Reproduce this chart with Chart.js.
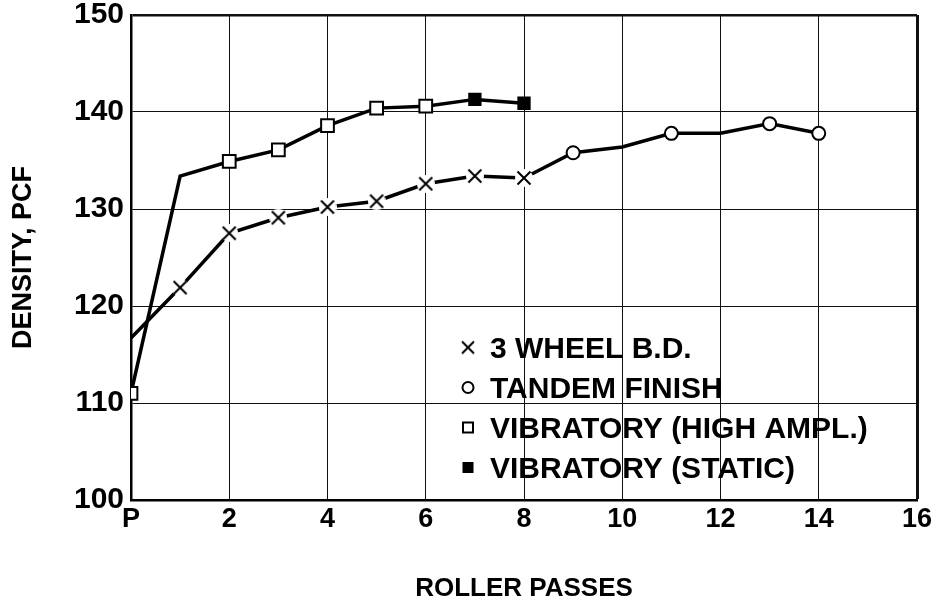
<!DOCTYPE html>
<html>
<head>
<meta charset="utf-8">
<script src="https://cdn.jsdelivr.net/npm/chart.js@4/dist/chart.umd.min.js"></script>
<style>
    html, body { margin: 0; padding: 0; background: #fff; }
    canvas { display: block; }
</style>
</head>
<body>
<canvas id="chart" width="934" height="608"></canvas>
<script>
// Данные
const xTickLabels = ['P', '2', '4', '6', '8', '10', '12', '14', '16'];
const yTicks = [100, 110, 120, 130, 140, 150];

const wheelPasses = [0, 1, 2, 3, 4, 5, 6, 7, 8];
const wheelDensity = [116.7, 121.9, 127.5, 129.1, 130.2, 130.8, 132.6, 133.4, 133.2];
const wheelMarks = [0, 1, 1, 1, 1, 1, 1, 1, 1];

const tandemPasses = [8, 9, 10, 11, 12, 13, 14];
const tandemDensity = [133.2, 135.8, 136.4, 137.8, 137.8, 138.8, 137.8];
const tandemMarks = [0, 1, 0, 1, 0, 1, 1];

const vibHighPasses = [0, 1, 2, 3, 4, 5, 6];
const vibHighDensity = [111.0, 133.4, 134.9, 136.1, 138.6, 140.4, 140.6];
const vibHighMarks = [1, 0, 1, 1, 1, 1, 1];

const vibStaticPasses = [6, 7, 8];
const vibStaticDensity = [140.6, 141.3, 140.9];
const vibStaticMarks = [0, 1, 1];

const legendLabels = ['3 WHEEL B.D.', 'TANDEM FINISH', 'VIBRATORY (HIGH AMPL.)', 'VIBRATORY (STATIC)'];

const FONT = '"Liberation Sans", Arial, sans-serif';

function toPoints(xs, ys) {
    return xs.map((x, i) => ({ x: x, y: ys[i] }));
}

// Крестик с белым ореолом (линия прерывается возле маркера)
function makeCross(size, arm, lw, halo) {
    const c = document.createElement('canvas');
    c.width = size;
    c.height = size;
    const g = c.getContext('2d');
    const m = size / 2;
    if (halo) {
        g.fillStyle = '#fff';
        g.beginPath();
        g.arc(m, m, m, 0, Math.PI * 2);
        g.fill();
    }
    g.strokeStyle = '#000';
    g.lineWidth = lw;
    g.beginPath();
    g.moveTo(m - arm, m - arm);
    g.lineTo(m + arm, m + arm);
    g.moveTo(m + arm, m - arm);
    g.lineTo(m - arm, m + arm);
    g.stroke();
    return c;
}

const crossImg = makeCross(18, 6.5, 2, true);

function lineDataset(label, xs, ys, marks, style, radius, fill) {
    return {
        label: label,
        data: toPoints(xs, ys),
        borderColor: '#000',
        borderWidth: 3.5,
        tension: 0,
        pointStyle: style,
        pointRadius: marks.map(m => m ? radius : 0),
        pointBackgroundColor: fill,
        pointBorderColor: '#000',
        pointBorderWidth: 2
    };
}

// Легенда внутри области графика
const legendPlugin = {
    id: 'insideLegend',
    afterDraw(chart) {
        const ctx = chart.ctx;
        ctx.save();
        ctx.font = 'bold 30px ' + FONT;
        ctx.textBaseline = 'alphabetic';
        ctx.fillStyle = '#000';
        legendLabels.forEach((label, i) => {
            const base = 358 + i * 40;
            const cx = 468;
            const cy = base - 10.5;
            ctx.lineWidth = 2;
            ctx.strokeStyle = '#000';
            if (i === 0) {
                ctx.drawImage(makeCross(16, 6, 2, false), cx - 8, cy - 8);
            } else if (i === 1) {
                ctx.beginPath();
                ctx.arc(cx, cy, 5.5, 0, Math.PI * 2);
                ctx.stroke();
            } else if (i === 2) {
                ctx.strokeRect(cx - 5, cy - 5, 10, 10);
            } else {
                ctx.fillRect(cx - 5.5, cy - 5.5, 11, 11);
            }
            ctx.fillText(label, 490, base);
        });
        ctx.restore();
    }
};

new Chart(document.getElementById('chart'), {
    type: 'line',
    data: {
        datasets: [
            lineDataset('3 WHEEL B.D.', wheelPasses, wheelDensity, wheelMarks, crossImg, 9, '#fff'),
            lineDataset('TANDEM FINISH', tandemPasses, tandemDensity, tandemMarks, 'circle', 6.5, '#fff'),
            lineDataset('VIBRATORY (HIGH AMPL.)', vibHighPasses, vibHighDensity, vibHighMarks, 'rect', 9, '#fff'),
            lineDataset('VIBRATORY (STATIC)', vibStaticPasses, vibStaticDensity, vibStaticMarks, 'rect', 8, '#000')
        ]
    },
    options: {
        responsive: false,
        animation: false,
        events: [],
        layout: { padding: { left: 0, right: 17, top: 15, bottom: 0 } },
        plugins: {
            legend: { display: false },
            tooltip: { enabled: false }
        },
        scales: {
            x: {
                type: 'linear',
                min: 0,
                max: 16,
                afterFit: scale => {
                    scale.height = 108;
                    scale.paddingLeft = 0;
                    scale.paddingRight = 0;
                },
                ticks: {
                    stepSize: 2,
                    padding: 6,
                    color: '#000',
                    font: { family: FONT, size: 27, weight: 'bold', lineHeight: 1 },
                    callback: value => xTickLabels[value / 2]
                },
                grid: {
                    color: '#111',
                    drawTicks: false,
                    lineWidth: ctx => (ctx.tick && ctx.tick.value === 16) ? 3 : 1
                },
                border: { display: true, color: '#000', width: 2.5 },
                title: {
                    display: true,
                    text: 'ROLLER PASSES',
                    color: '#000',
                    font: { family: FONT, size: 26, weight: 'bold', lineHeight: 1.2 },
                    padding: { top: 0, bottom: 3.4 }
                }
            },
            y: {
                min: 100,
                max: 150,
                afterFit: scale => {
                    scale.width = 131;
                    scale.paddingTop = 0;
                    scale.paddingBottom = 0;
                },
                afterBuildTicks: scale => { scale.ticks = yTicks.map(v => ({ value: v })); },
                ticks: {
                    padding: 7,
                    color: '#000',
                    font: { family: FONT, size: 30, weight: 'bold', lineHeight: 1 }
                },
                grid: {
                    color: '#111',
                    drawTicks: false,
                    lineWidth: ctx => (ctx.tick && ctx.tick.value === 150) ? 2.5 : 1
                },
                border: { display: true, color: '#000', width: 2.5 },
                title: {
                    display: true,
                    text: 'DENSITY, PCF',
                    color: '#000',
                    font: { family: FONT, size: 27, weight: 'bold', lineHeight: 1.2 },
                    padding: { top: 7.4, bottom: 0 }
                }
            }
        }
    },
    plugins: [legendPlugin]
});
</script>
</body>
</html>
